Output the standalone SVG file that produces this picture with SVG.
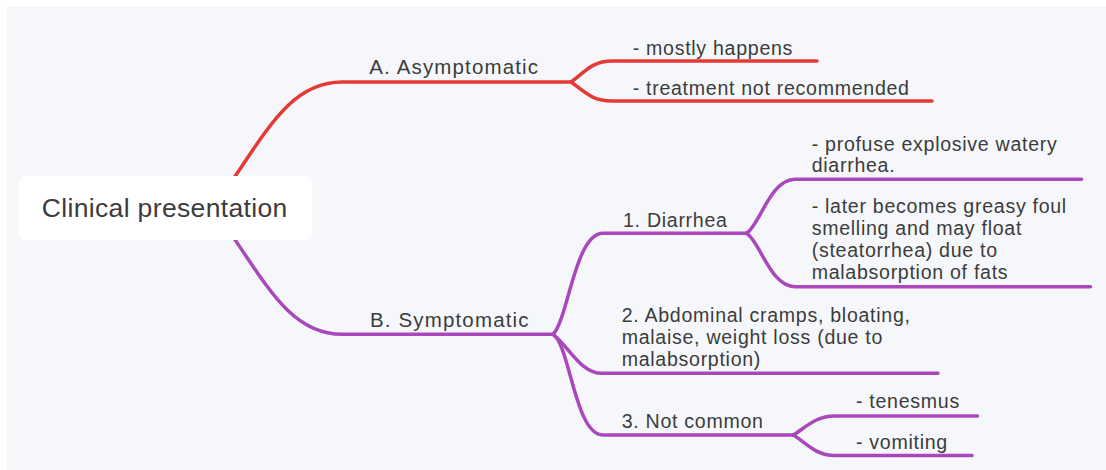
<svg xmlns="http://www.w3.org/2000/svg" width="1106" height="470" viewBox="0 0 1106 470">
  <style>
    .bg { fill: #f5f7fb; }
    .root-box { fill: #ffffff; }
    .label { font-family: "Liberation Sans", Arial, Helvetica, sans-serif; fill: #3c3c3c; }
    .root-text { font-size: 26.5px; letter-spacing: 0.35px; }
    .main-text { font-size: 20.5px; letter-spacing: 1.15px; }
    .sub-text { font-size: 19.6px; letter-spacing: 0.7px; }
    .edge { fill: none; stroke-width: 3.5; stroke-linecap: round; stroke-linejoin: round; }
    .red { stroke: #e53935; }
    .purple { stroke: #ab47bc; }
  </style>

  <!-- canvas -->
  <rect x="0" y="0" width="1106" height="470" fill="#ffffff"/>
  <rect class="bg" x="7" y="6" width="1099" height="464"/>

  <!-- connectors -->
  <g id="connectors">
    <!-- root to A -->
    <path class="edge red" d="M 210 212 C 262 142, 285 82, 342 82 L 571 82"/>
    <!-- A to leaves -->
    <path class="edge red" d="M 571 82 C 585 72, 592 61, 612 61 L 817 61"/>
    <path class="edge red" d="M 571 82 C 585 92, 592 101, 612 101 L 932 101"/>

    <!-- root to B -->
    <path class="edge purple" d="M 210 204 C 262 274, 285 334.3, 342 334.3 L 553 334.3"/>
    <!-- B to children -->
    <path class="edge purple" d="M 553 334.3 C 568 320, 575 233.3, 603 233.3 L 746.5 233.3"/>
    <path class="edge purple" d="M 553 334.3 C 568 345, 580 373.3, 602 373.3 L 938 373.3"/>
    <path class="edge purple" d="M 553 334.3 C 570 345, 575 435, 603 435 L 793.3 435"/>
    <!-- Diarrhea to leaves -->
    <path class="edge purple" d="M 746.5 233.3 C 760 225, 770 179.3, 795 179.3 L 1081.5 179.3"/>
    <path class="edge purple" d="M 746.5 233.3 C 760 241, 770 286.7, 795 286.7 L 1090.5 286.7"/>
    <!-- Not common to leaves -->
    <path class="edge purple" d="M 793.3 435 C 805 428, 815 416, 835 416 L 977.5 416"/>
    <path class="edge purple" d="M 793.3 435 C 805 442, 815 455.5, 835 455.5 L 972 455.5"/>
  </g>

  <!-- root node -->
  <g id="node-root">
    <rect class="root-box" x="19" y="176" width="293" height="64" rx="6"/>
    <text class="label root-text" x="41.7" y="217.3">Clinical presentation</text>
  </g>

  <!-- branch A -->
  <g id="node-asymptomatic">
    <text class="label main-text" x="369.3" y="74.3">A. Asymptomatic</text>
  </g>
  <g id="node-mostly-happens">
    <text class="label sub-text" x="632.7" y="54.8">- mostly happens</text>
  </g>
  <g id="node-treatment">
    <text class="label sub-text" x="632.7" y="94.5">- treatment not recommended</text>
  </g>

  <!-- branch B -->
  <g id="node-symptomatic">
    <text class="label main-text" x="370" y="327.3">B. Symptomatic</text>
  </g>
  <g id="node-diarrhea">
    <text class="label sub-text" x="623" y="226.7">1. Diarrhea</text>
  </g>
  <g id="node-profuse">
    <text class="label sub-text" x="811.7" y="150.5">
      <tspan x="811.7" y="150.5">- profuse explosive watery</tspan>
      <tspan x="811.7" y="172">diarrhea.</tspan>
    </text>
  </g>
  <g id="node-greasy">
    <text class="label sub-text" x="811.7" y="212.7">
      <tspan x="811.7" y="212.7">- later becomes greasy foul</tspan>
      <tspan x="811.7" y="235">smelling and may float</tspan>
      <tspan x="811.7" y="257.2">(steatorrhea) due to</tspan>
      <tspan x="811.7" y="279.3">malabsorption of fats</tspan>
    </text>
  </g>
  <g id="node-abdominal">
    <text class="label sub-text" x="621.7" y="321.7">
      <tspan x="621.7" y="321.7">2. Abdominal cramps, bloating,</tspan>
      <tspan x="621.7" y="344">malaise, weight loss (due to</tspan>
      <tspan x="621.7" y="366.2">malabsorption)</tspan>
    </text>
  </g>
  <g id="node-not-common">
    <text class="label sub-text" x="621.7" y="427.7">3. Not common</text>
  </g>
  <g id="node-tenesmus">
    <text class="label sub-text" x="856" y="407.7">- tenesmus</text>
  </g>
  <g id="node-vomiting">
    <text class="label sub-text" x="856" y="448.8">- vomiting</text>
  </g>
</svg>
